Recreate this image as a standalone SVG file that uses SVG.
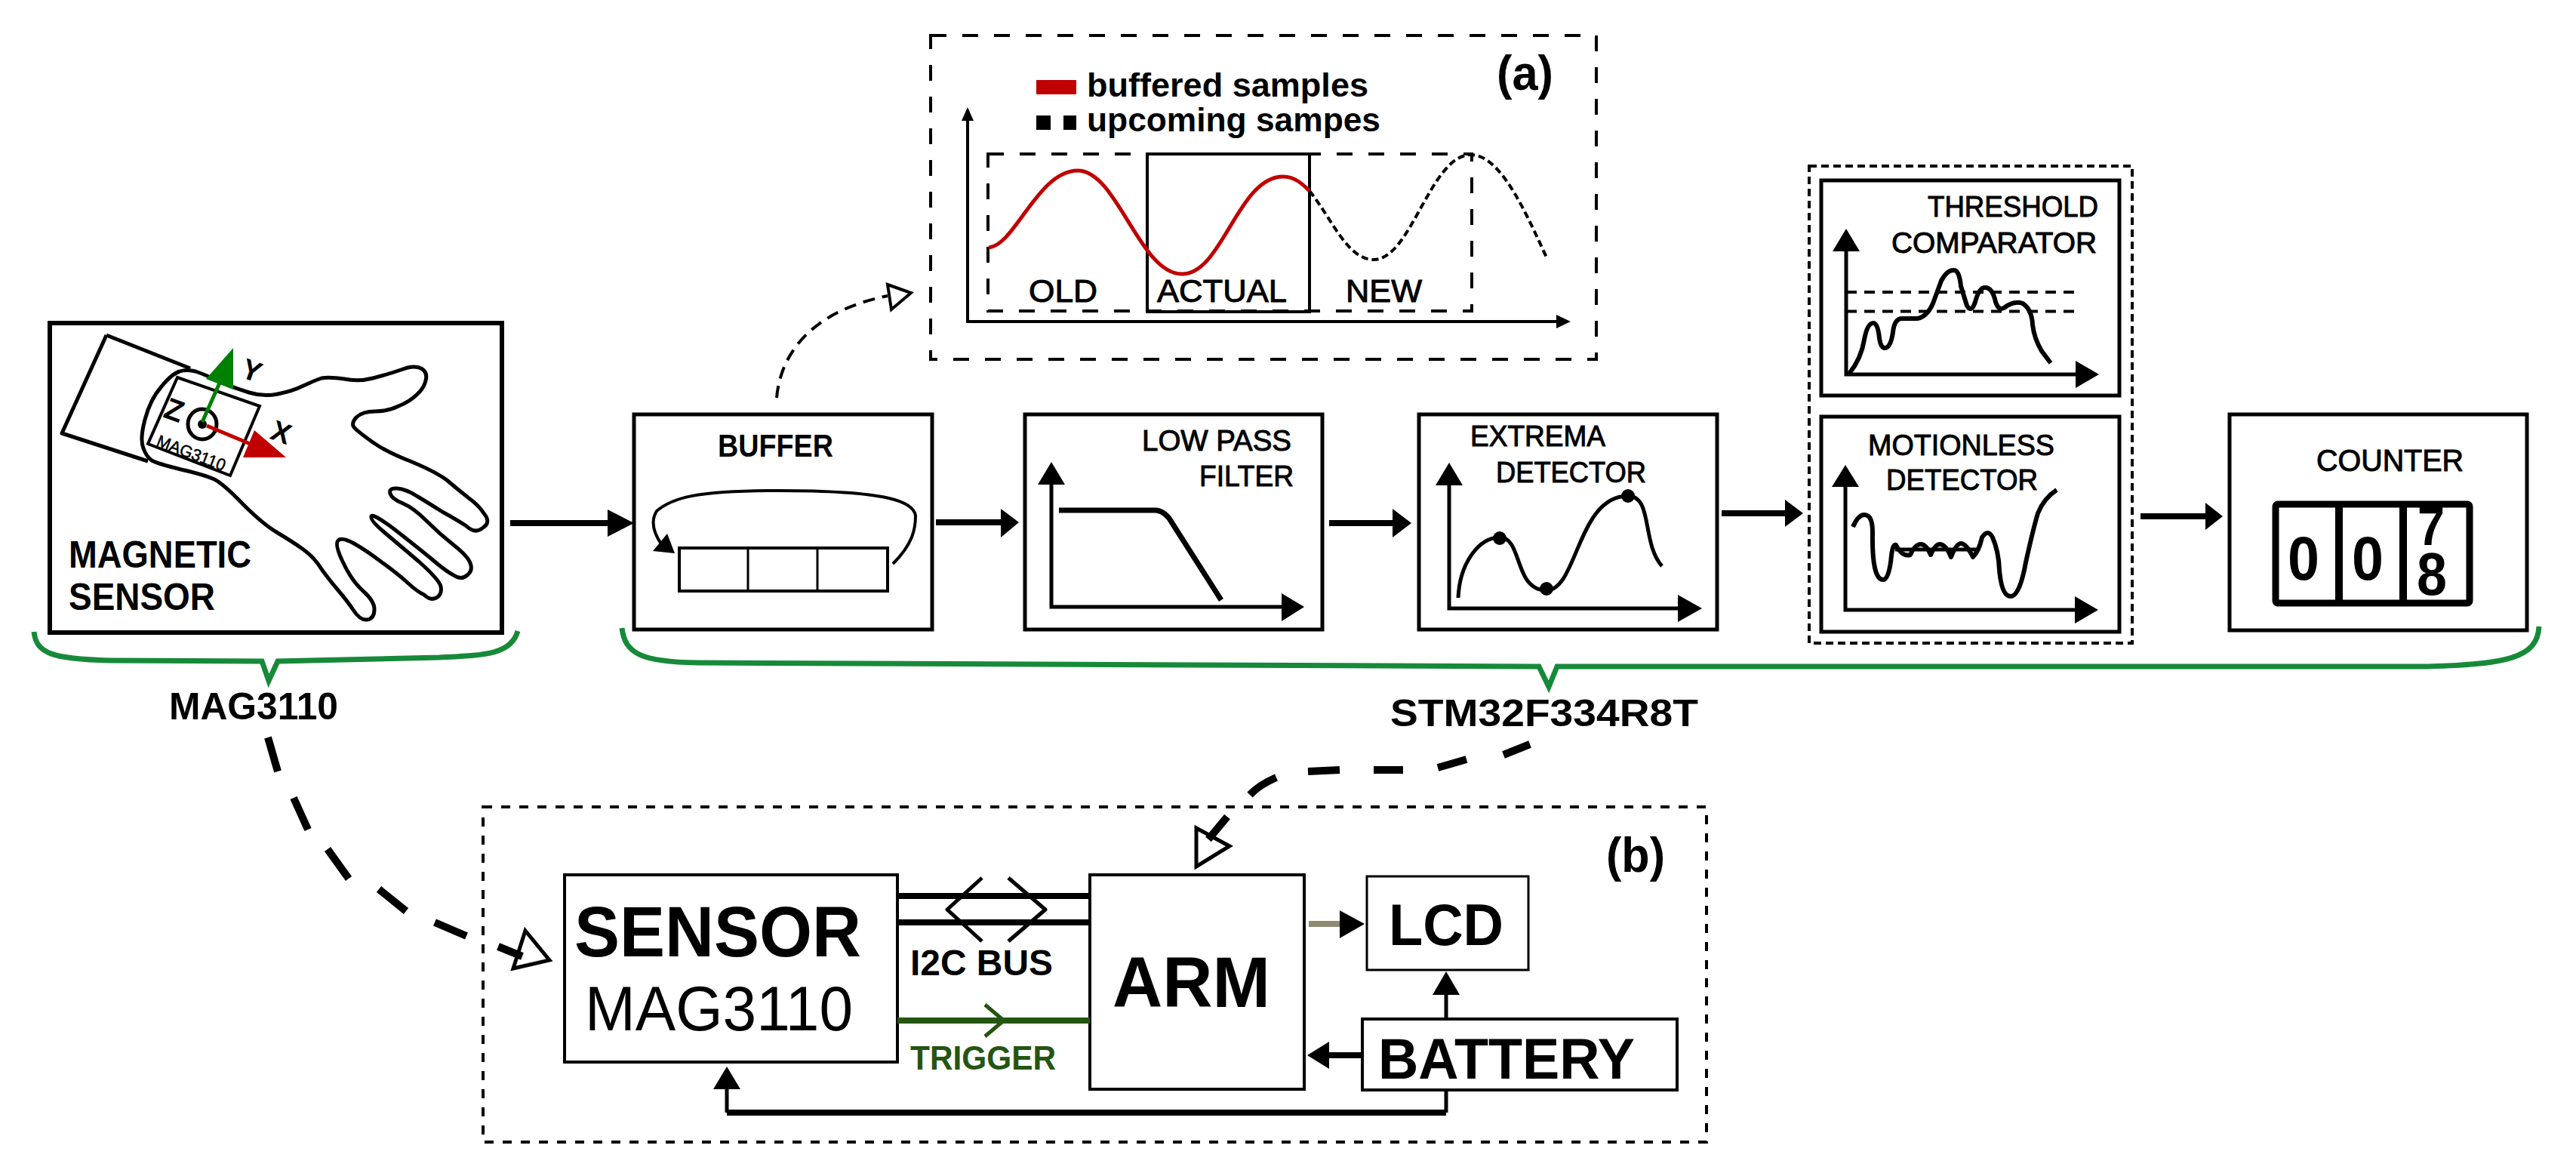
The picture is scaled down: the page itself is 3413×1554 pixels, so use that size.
<svg xmlns="http://www.w3.org/2000/svg" width="3413" height="1554" viewBox="0 0 3413 1554">
<style>
text{font-family:"Liberation Sans",Arial,sans-serif;fill:#000}
.b{font-weight:700}
.r{stroke:#000;stroke-width:1}
.box{fill:#fff;stroke:#000;stroke-width:5}
.thin{fill:#fff;stroke:#000;stroke-width:4}
.ln{fill:none;stroke:#000;stroke-width:5;stroke-linejoin:round}
.sh{fill:none;stroke:#000;stroke-width:8}
.ax{fill:none;stroke:#000;stroke-width:5}
.hd{fill:#000;stroke:none}
.hollow{fill:#fff;stroke:#000;stroke-width:5}
.brace{fill:none;stroke:#178a3a;stroke-width:7;stroke-linejoin:miter}
.dash{fill:none;stroke:#000;stroke-width:4;stroke-dasharray:21 21}
.bigd{fill:none;stroke:#000;stroke-width:10}
</style>
<rect width="3413" height="1554" fill="#fff"/>

<g id="magnetic-sensor">
<rect class="box" x="66" y="428" width="599" height="410" style="stroke-width:6"/>
<path class="ln" d="M141 444L252 488M141 444L82 574L196 611"/>
<path class="ln" d="M190 594Q185 582 192 556Q199 529 214 512Q228 495 238 492Q247 489 259 492Q271 496 290 505Q310 514 330 520Q349 526 368 522Q388 518 402 511Q417 504 426 501Q436 499 456 502Q475 506 494 501Q514 496 531 490Q548 483 558 488Q567 493 564 504Q562 514 552 523Q543 532 528 538Q514 545 497 545Q480 545 472 553Q465 561 469 566Q473 571 494 586Q514 600 546 612Q577 625 592 636Q606 648 620 659Q635 670 641 680Q651 692 640 699Q630 708 618 697Q606 689 586 678Q567 666 552 657Q538 648 526 647Q515 646 517 654Q519 661 534 667Q548 673 565 690Q582 707 601 722Q620 737 623 746Q627 756 619 762Q611 769 601 762Q591 757 570 739Q548 721 521 700Q494 680 492 684Q490 689 509 705Q528 721 555 744Q582 768 584 777Q586 788 578 792Q570 796 562 788Q553 784 540 772Q528 761 506 745Q485 729 469 720Q453 711 448 716Q443 721 454 744Q465 768 480 782Q496 796 496 807Q496 820 486 821Q477 822 468 808Q460 796 448 782Q436 768 426 754Q417 739 402 728Q388 718 368 706Q349 695 322 668Q296 641 284 635Q271 629 240 622Q208 614 201 610Q194 605 190 594Z"/>
<polygon points="235,500 344,538 305,630 196,588" style="fill:none;stroke:#000;stroke-width:4"/>
<ellipse cx="268" cy="562" rx="19" ry="20" style="fill:none;stroke:#000;stroke-width:5"/>
<circle cx="268" cy="562" r="6"/>
<path d="M268 559L292 505" style="stroke:#008000;stroke-width:5"/>
<polygon points="309,461 273,502 309,516" fill="#008000"/>
<path d="M274 564L336 590" style="stroke:#c00000;stroke-width:5"/>
<polygon points="379,606 337,570 322,606" fill="#c00000"/>
<text class="b" font-size="40" text-anchor="middle" transform="translate(231,543) rotate(20)" y="14">Z</text>
<text class="b" font-size="38" text-anchor="middle" transform="translate(334,490) rotate(20)" y="14">Y</text>
<text class="b" font-size="38" text-anchor="middle" transform="translate(373,572) rotate(20)" y="14">X</text>
<text font-size="22" class="r" style="stroke-width:.5" transform="translate(206,590) rotate(21)" textLength="96" lengthAdjust="spacingAndGlyphs">MAG3110</text>
<text class="b" font-size="50" x="91" y="752" textLength="242" lengthAdjust="spacingAndGlyphs">MAGNETIC</text>
<text class="b" font-size="50" x="91" y="808" textLength="194" lengthAdjust="spacingAndGlyphs">SENSOR</text>
</g>

<g id="buffer">
<rect class="box" x="840" y="549" width="395" height="285"/>
<text class="b" font-size="42" x="951" y="605" textLength="153" lengthAdjust="spacingAndGlyphs">BUFFER</text>
<rect class="thin" x="900" y="726" width="276" height="57"/>
<path d="M991 726V783M1083 726V783" style="stroke:#000;stroke-width:3"/>
<path class="ln" d="M1183 747C1210 720 1213 700 1213 683C1210 665 1180 650 1030 650C920 650 890 660 870 677C862 690 865 705 877 722" style="stroke-width:4"/>
<polygon class="hd" points="894,733 884,707 865,730"/>
</g>

<g id="low-pass-filter">
<rect class="box" x="1358" y="549" width="394" height="285"/>
<text class="r" font-size="39" x="1513" y="597" textLength="198" lengthAdjust="spacingAndGlyphs">LOW PASS</text>
<text class="r" font-size="39" x="1589" y="644" textLength="125" lengthAdjust="spacingAndGlyphs">FILTER</text>
<path class="ax" d="M1393 640V804H1700"/>
<polygon class="hd" points="1393,612 1375,642 1411,642"/>
<polygon class="hd" points="1728,804 1698,786 1698,823"/>
<path d="M1403 676L1532 676Q1545 678 1553 693L1618 795" style="fill:none;stroke:#000;stroke-width:7"/>
</g>

<g id="extrema-detector">
<rect class="box" x="1880" y="549" width="395" height="285"/>
<text class="r" font-size="39" x="1948" y="591" textLength="179" lengthAdjust="spacingAndGlyphs">EXTREMA</text>
<text class="r" font-size="39" x="1982" y="639" textLength="199" lengthAdjust="spacingAndGlyphs">DETECTOR</text>
<path class="ax" d="M1920 640V806H2225"/>
<polygon class="hd" points="1920,613 1902,643 1938,643"/>
<polygon class="hd" points="2255,806 2223,788 2223,824"/>
<path class="ln" d="M1932 792C1934 745 1960 712 1987 712C2018 712 2005 782 2049 782C2090 782 2090 657 2157 657C2190 657 2175 720 2202 750"/>
<circle cx="1987" cy="713" r="9"/><circle cx="2049" cy="780" r="9"/><circle cx="2157" cy="657" r="9"/>
</g>

<g id="detector-group">
<rect x="2397" y="220" width="428" height="632" style="fill:none;stroke:#000;stroke-width:4;stroke-dasharray:10 6"/>
</g>

<g id="threshold-comparator">
<rect class="box" x="2413" y="239" width="395" height="285"/>
<text class="r" font-size="39" x="2554" y="287" textLength="226" lengthAdjust="spacingAndGlyphs">THRESHOLD</text>
<text class="r" font-size="39" x="2506" y="335" textLength="272" lengthAdjust="spacingAndGlyphs">COMPARATOR</text>
<path class="ax" d="M2446 330V496H2752"/>
<polygon class="hd" points="2446,303 2428,333 2464,333"/>
<polygon class="hd" points="2781,496 2750,478 2750,514"/>
<path d="M2446 387H2751M2446 412.5H2751" style="fill:none;stroke:#000;stroke-width:4;stroke-dasharray:14 10"/>
<path class="ln" style="stroke-width:6" d="M2450 495Q2466 475 2470 450Q2474 428 2482 428Q2488 428 2490 448Q2492 461 2497 461Q2505 461 2508 440Q2510 422 2520 422L2540 422Q2553 420 2561 402L2572 372Q2580 357 2589 358Q2596 358 2598 379L2606 405Q2612 415 2617 400Q2622 381 2630 381Q2640 381 2644 400Q2648 412 2655 408Q2668 398 2680 402Q2692 410 2693 430Q2695 448 2705 465L2717 481"/>
</g>

<g id="motionless-detector">
<rect class="box" x="2413" y="552" width="395" height="285"/>
<text class="r" font-size="39" x="2475" y="603" textLength="247" lengthAdjust="spacingAndGlyphs">MOTIONLESS</text>
<text class="r" font-size="39" x="2499" y="649" textLength="201" lengthAdjust="spacingAndGlyphs">DETECTOR</text>
<path class="ax" d="M2445 640V808H2752"/>
<polygon class="hd" points="2445,616 2427,645 2463,645"/>
<polygon class="hd" points="2780,808 2749,790 2749,826"/>
<path class="ln" style="stroke-width:6" d="M2455 698Q2462 682 2470 682Q2481 682 2481 705Q2480 768 2495 768Q2503 768 2506 736Q2508 720 2512 722Q2520 738 2531 735Q2537 721 2545 721Q2552 721 2558 735Q2564 721 2570 721Q2578 721 2585 738Q2592 720 2598 720Q2605 720 2614 738Q2622 730 2626 712Q2634 700 2640 712Q2648 730 2649 755Q2652 790 2664 790Q2676 790 2684 745Q2694 700 2700 680Q2708 660 2725 649"/>
<path d="M2511 728H2622" style="stroke:#000;stroke-width:5"/>
</g>

<g id="counter">
<rect class="box" x="2954" y="549" width="394" height="286"/>
<text class="r" font-size="41" x="3069" y="624" textLength="195" lengthAdjust="spacingAndGlyphs">COUNTER</text>
<text class="b" font-size="82" x="3052" y="768" text-anchor="middle" textLength="42" lengthAdjust="spacingAndGlyphs">0</text>
<text class="b" font-size="82" x="3137" y="768" text-anchor="middle" textLength="42" lengthAdjust="spacingAndGlyphs">0</text>
<text class="b" font-size="72" x="3221" y="722" text-anchor="middle" textLength="36" lengthAdjust="spacingAndGlyphs">7</text>
<text class="b" font-size="80" x="3222" y="788" text-anchor="middle" textLength="40" lengthAdjust="spacingAndGlyphs">8</text>
<rect x="3015" y="668" width="257" height="131" rx="3" style="fill:none;stroke:#000;stroke-width:9"/>
<path d="M3099 668V799M3184 668V799" style="stroke:#000;stroke-width:10"/>
</g>

<g id="panel-a">
<rect class="dash" x="1233" y="47" width="882" height="429"/>
<rect x="1373" y="106" width="53" height="19" fill="#c00000"/>
<text class="b" font-size="44" x="1440" y="128" textLength="373" lengthAdjust="spacingAndGlyphs">buffered samples</text>
<rect x="1373" y="153" width="19" height="19"/><rect x="1409" y="153" width="17" height="19"/>
<text class="b" font-size="44" x="1440" y="174" textLength="389" lengthAdjust="spacingAndGlyphs">upcoming sampes</text>
<text class="b" font-size="64" x="1983" y="119" textLength="75" lengthAdjust="spacingAndGlyphs">(a)</text>
<path d="M1282 150V426H2065" style="fill:none;stroke:#000;stroke-width:4"/>
<polygon class="hd" points="1282,142 1274,160 1290,160"/>
<polygon class="hd" points="2081,426 2062,417 2062,435"/>
<rect class="dash" x="1309" y="204" width="641" height="208"/>
<rect x="1520" y="204" width="215" height="209" style="fill:none;stroke:#000;stroke-width:4"/>
<path d="M1310 328C1345 325 1375 226 1428 226C1480 226 1510 363 1566 363C1620 363 1640 234 1700 234C1715 234 1725 243 1735 253" style="fill:none;stroke:#c00000;stroke-width:5"/>
<path d="M1735 253C1765 290 1785 344 1820 344C1870 344 1895 205 1949 205C1990 205 2025 290 2050 343" style="fill:none;stroke:#000;stroke-width:4;stroke-dasharray:9 5"/>
<text class="r" font-size="43" x="1363" y="400" textLength="91" lengthAdjust="spacingAndGlyphs">OLD</text>
<text class="r" font-size="43" x="1533" y="400" textLength="172" lengthAdjust="spacingAndGlyphs">ACTUAL</text>
<text class="r" font-size="43" x="1783" y="400" textLength="101" lengthAdjust="spacingAndGlyphs">NEW</text>
</g>

<g id="braces">
<path class="brace" d="M45 837C48 866 70 873 145 875L347 876L356 902L368 876L582 871C640 868 677 868 686 836"/>
<path class="brace" d="M824 832C828 866 850 877 924 878L2039 883L2052 910L2063 883L3216 883C3320 880 3362 872 3364 830"/>
<text class="b" font-size="50" x="224" y="953" textLength="224" lengthAdjust="spacingAndGlyphs">MAG3110</text>
<text class="b" font-size="50" x="1842" y="962" textLength="408" lengthAdjust="spacingAndGlyphs">STM32F334R8T</text>
</g>

<g id="connectors">
<path class="sh" d="M676 693H810"/><polygon class="hd" points="840,693 805,675 805,711"/>
<path class="sh" d="M1240 692H1330"/><polygon class="hd" points="1350,692 1326,674 1326,712"/>
<path class="sh" d="M1761 693H1850"/><polygon class="hd" points="1870,693 1845,674 1845,712"/>
<path class="sh" d="M2281 680H2370"/><polygon class="hd" points="2389,680 2365,662 2365,698"/>
<path class="sh" d="M2836 684H2925"/><polygon class="hd" points="2945,684 2922,666 2922,702"/>
<path d="M1029 527C1035 460 1085 410 1176 392" style="fill:none;stroke:#000;stroke-width:4;stroke-dasharray:16 10"/>
<polygon points="1176,377 1207,388 1181,410" style="fill:#fff;stroke:#000;stroke-width:4"/>
<polygon class="hollow" points="696,1233 728,1272 680,1283"/>
<path class="bigd" d="M355 977L368 1022M389 1057L408 1099M434 1125L462 1164M502 1178L538 1207M576 1222L618 1240M660 1254L692 1267"/>
<polygon class="hollow" points="1585,1097 1629,1121 1585,1148"/>
<path class="bigd" d="M2027 986L1992 1000M1943 1006L1905 1017M1859 1020H1820M1775 1020L1733 1022M1691 1030Q1668 1040 1656 1053M1626 1082L1601 1112"/>
</g>

<g id="panel-b">
<rect x="640" y="1069" width="1621" height="444" style="fill:none;stroke:#000;stroke-width:4;stroke-dasharray:12 12"/>
<text class="b" font-size="64" x="2128" y="1155" textLength="78" lengthAdjust="spacingAndGlyphs">(b)</text>
</g>

<g id="sensor">
<rect class="thin" x="748" y="1159" width="441" height="248"/>
<text class="b" font-size="94" x="761" y="1267" textLength="380" lengthAdjust="spacingAndGlyphs">SENSOR</text>
<text font-size="84" x="775" y="1365" textLength="355" lengthAdjust="spacingAndGlyphs">MAG3110</text>
</g>
<g id="arm">
<rect class="thin" x="1444" y="1159" width="284" height="284"/>
<text class="b" font-size="95" x="1474" y="1334" textLength="209" lengthAdjust="spacingAndGlyphs">ARM</text>
</g>
<g id="lcd">
<rect x="1811" y="1161" width="214" height="124" style="fill:#fff;stroke:#000;stroke-width:3"/>
<text class="b" font-size="77" x="1840" y="1252" textLength="152" lengthAdjust="spacingAndGlyphs">LCD</text>
</g>
<g id="battery">
<rect class="thin" x="1805" y="1350" width="417" height="94"/>
<text class="b" font-size="76" x="1826" y="1429" textLength="340" lengthAdjust="spacingAndGlyphs">BATTERY</text>
</g>

<g id="bus-connectors">
<path class="sh" d="M1189 1187H1444M1189 1222H1444"/>
<path class="ln" d="M1301 1163L1255 1205L1301 1247M1336 1163L1385 1205L1336 1247"/>
<text class="b" font-size="48" x="1206" y="1292" textLength="189" lengthAdjust="spacingAndGlyphs">I2C BUS</text>
<path d="M1189 1352H1444" style="stroke:#255511;stroke-width:8"/>
<path d="M1305 1331L1330 1352L1305 1373" style="fill:none;stroke:#255511;stroke-width:5"/>
<text class="b" font-size="44" x="1206" y="1417" textLength="193" lengthAdjust="spacingAndGlyphs" style="fill:#255511">TRIGGER</text>
<path d="M1734 1224H1778" style="stroke:#8e8b72;stroke-width:8"/>
<polygon class="hd" points="1808,1224 1775,1206 1775,1243"/>
<path class="ln" d="M1916 1348V1315"/>
<polygon class="hd" points="1916,1287 1898,1318 1934,1318"/>
<path class="sh" d="M1805 1398H1758"/>
<polygon class="hd" points="1732,1398 1761,1380 1761,1416"/>
<path class="ln" d="M1916 1444V1474M963 1474V1440"/>
<path class="sh" d="M963 1474H1916"/>
<polygon class="hd" points="963,1413 945,1443 981,1443"/>
</g>
</svg>
